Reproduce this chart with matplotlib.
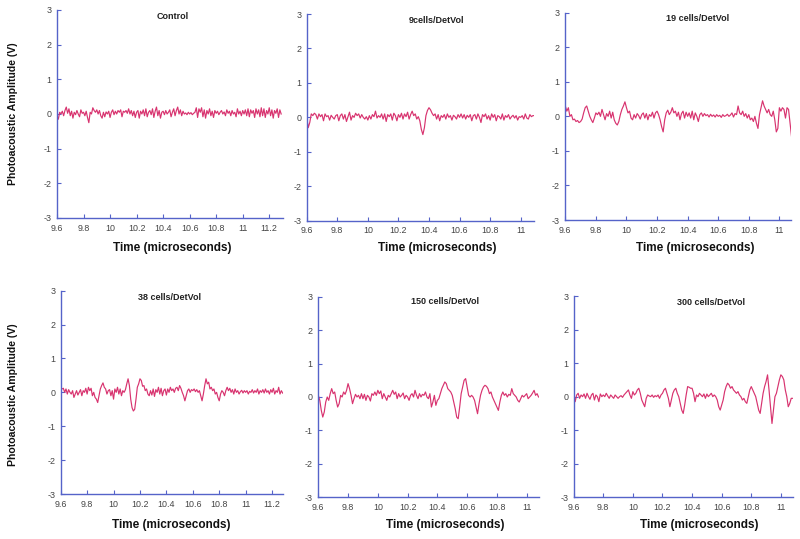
import numpy as np
import matplotlib
matplotlib.use("Agg")
import matplotlib.pyplot as plt

plt.rcParams['font.family'] = ['Liberation Sans', 'DejaVu Sans']
plt.rcParams['axes.unicode_minus'] = False

titles = ["Control", "9cells/DetVol", "19 cells/DetVol",
          "38 cells/DetVol", "150 cells/DetVol", "300 cells/DetVol"]

sig_control = [
    -0.05, -0.15, 0.05, 0.0, 0.08, -0.05, 0.10, 0.20, 0.02, 0.15,
    -0.05, 0.08, -0.12, 0.05, -0.02, 0.10, 0.0, -0.08, 0.12, 0.02,
    0.05, -0.05, 0.08, -0.10, -0.25, 0.05, 0.0, 0.18, 0.10, 0.05,
    0.12, 0.0, 0.10, -0.05, -0.12, 0.05, -0.08, 0.06, 0.0, 0.08,
    -0.10, 0.05, 0.12, -0.02, 0.08, 0.0, 0.10, 0.05, 0.12, -0.08,
    0.08, 0.05, 0.10, 0.02, 0.15, 0.0, 0.10, -0.05, 0.08, -0.10,
    0.05, 0.10, -0.12, 0.08, 0.0, 0.12, -0.05, 0.15, -0.08, 0.05,
    0.10, -0.02, 0.15, -0.10, 0.08, 0.20, -0.05, 0.10, -0.12, 0.05,
    0.08, -0.02, 0.10, 0.0, 0.05, 0.12, -0.08, 0.05, 0.15, -0.05,
    0.10, 0.20, 0.0, 0.12, -0.05, 0.08, 0.0, 0.03, -0.02, 0.05,
    0.0, 0.04, -0.02, 0.02, 0.05, 0.18, -0.10, 0.15, 0.05, 0.18,
    -0.08, 0.12, -0.12, 0.10, 0.0, 0.15, -0.05, 0.08, -0.10, 0.10,
    0.02, 0.08, -0.02, 0.05, 0.10, 0.0, 0.06, -0.05, 0.12, 0.02,
    0.08, -0.05, 0.10, 0.0, 0.05, -0.08, 0.15, 0.0, 0.08, -0.05,
    0.10, 0.0, 0.12, -0.05, 0.15, -0.08, 0.12, 0.02, 0.10, -0.10,
    0.15, 0.0, 0.12, -0.08, 0.18, -0.05, 0.15, -0.10, 0.10, 0.0,
    0.18, -0.05, 0.12, -0.12, 0.10, 0.02, 0.15, -0.10, 0.12, 0.0,
]

sig_9 = [
    0.0, -0.30, -0.15, 0.10, 0.05, 0.12, 0.08, -0.05, 0.10, 0.02,
    0.08, -0.10, 0.10, 0.02, 0.05, -0.08, 0.06, 0.0, -0.05, 0.05,
    0.08, -0.10, 0.05, 0.10, -0.05, 0.08, -0.12, 0.02, 0.15, -0.08,
    0.05, 0.0, 0.12, 0.05, 0.10, -0.02, 0.08, 0.0, -0.05, 0.02,
    -0.08, 0.05, -0.05, 0.08, 0.02, 0.18, -0.02, 0.05, 0.0, 0.10,
    -0.05, 0.10, -0.12, 0.08, 0.02, 0.10, -0.08, 0.12, 0.05, -0.10,
    0.08, 0.0, 0.12, -0.05, 0.10, 0.02, 0.15, -0.05, 0.08, 0.18,
    0.05, 0.10, -0.05, 0.02, -0.10, -0.35, -0.50, -0.30, 0.05, 0.20,
    0.28, 0.22, 0.12, 0.05, 0.10, -0.05, 0.08, -0.10, 0.05, 0.0,
    0.08, -0.05, 0.10, 0.0, 0.05, -0.08, 0.06, 0.02, -0.05, 0.08,
    0.0, 0.10, -0.02, 0.08, -0.05, 0.06, 0.0, 0.08, -0.10, 0.05,
    0.08, -0.05, 0.10, 0.0, -0.15, 0.08, 0.02, 0.10, -0.05, 0.05,
    -0.08, 0.10, 0.0, 0.08, -0.10, 0.05, 0.02, -0.05, 0.10, -0.08,
    0.05, 0.0, 0.08, -0.05, 0.02, 0.06, -0.02, 0.05, -0.08, 0.02,
    0.0, 0.05, -0.05, 0.10, -0.02, -0.05, 0.08, 0.02, 0.05, 0.05,
]

sig_19 = [
    0.30, 0.15, 0.25, 0.0, 0.05, -0.10, -0.08, -0.15, -0.12, -0.18,
    -0.15, -0.08, 0.10, 0.25, 0.30, 0.15, 0.0, -0.10, -0.18, -0.05,
    0.10, 0.05, 0.12, 0.0, 0.20, 0.05, -0.10, 0.08, 0.0, 0.15,
    -0.05, 0.12, -0.10, -0.20, -0.25, -0.15, 0.05, 0.20, 0.30, 0.42,
    0.25, 0.10, 0.15, -0.05, -0.10, 0.05, -0.05, 0.08, 0.02, -0.08,
    0.05, 0.10, -0.05, 0.08, -0.10, 0.05, 0.0, 0.12, -0.05, 0.10,
    0.15, 0.05, -0.10, -0.30, -0.45, -0.10, 0.10, 0.18, 0.05, 0.12,
    0.25, 0.10, 0.15, 0.0, 0.12, -0.10, 0.08, 0.15, -0.05, 0.12,
    0.0, 0.10, -0.05, 0.15, -0.10, 0.10, 0.0, -0.15, 0.05, 0.10,
    0.0, 0.08, 0.02, 0.05, -0.02, 0.06, 0.0, 0.04, -0.02, 0.05,
    0.0, 0.03, -0.03, 0.05, 0.0, 0.02, 0.06, 0.0, 0.04, 0.10,
    -0.02, 0.08, 0.05, 0.30, 0.10, 0.05, 0.15, 0.0, 0.08, -0.05,
    0.05, -0.10, -0.05, -0.15, 0.0, -0.20, -0.35, 0.05, 0.25, 0.45,
    0.30, 0.20, 0.10, 0.20, 0.05, 0.0, 0.15, -0.10, -0.45, -0.35,
    0.25, 0.15, 0.25, 0.20, -0.05, 0.25, 0.20, -0.20, -0.60,
]

sig_38 = [
    0.15, 0.10, 0.12, 0.0, 0.10, -0.05, 0.08, 0.0, -0.05, 0.05,
    -0.15, -0.05, 0.05, -0.08, 0.0, 0.08, -0.10, 0.05, 0.0, 0.12,
    -0.05, 0.15, 0.05, 0.12, -0.10, 0.0, -0.15, -0.20, -0.30, -0.10,
    0.10, 0.20, 0.28, 0.15, 0.10, -0.05, 0.05, 0.08, -0.10, 0.05,
    -0.20, 0.10, 0.0, 0.15, -0.05, 0.10, -0.10, 0.05, 0.0, 0.08,
    0.25, 0.40, 0.20, -0.20, -0.45, -0.55, -0.50, -0.20, 0.15, 0.25,
    0.40, 0.35, 0.18, 0.20, 0.05, 0.10, -0.05, -0.10, 0.05, -0.08,
    0.10, -0.12, 0.08, 0.0, 0.15, -0.05, 0.12, -0.10, 0.05, 0.10,
    -0.08, 0.10, 0.0, 0.15, 0.05, 0.10, 0.0, 0.12, 0.15, 0.05,
    0.20, 0.12, 0.0, -0.10, -0.25, -0.10, 0.05, 0.10, 0.0, 0.08,
    0.05, 0.10, 0.02, 0.08, 0.0, 0.05, -0.10, -0.25, -0.05, 0.20,
    0.40, 0.25, 0.30, 0.10, 0.15, 0.05, 0.10, -0.05, 0.0, -0.15,
    -0.25, -0.05, 0.05, 0.0, -0.10, 0.05, 0.15, 0.05, 0.12, 0.0,
    0.08, -0.05, 0.10, 0.0, 0.05, -0.05, 0.02, 0.06, -0.02, 0.05,
    0.0, 0.05, -0.05, 0.03, 0.0, 0.08, -0.02, 0.05, 0.0, 0.10,
    -0.05, 0.05, 0.0, 0.08, -0.02, 0.10, 0.0, 0.05, -0.05, 0.08,
    0.0, 0.12, -0.05, 0.05, 0.0, 0.15, -0.05, 0.05, -0.02, -0.05,
]

sig_150 = [
    0.05, -0.10, -0.40, -0.60, -0.45, -0.15, 0.0, -0.10, 0.10, 0.25,
    0.10, 0.15, -0.10, -0.30, -0.20, 0.05, 0.0, 0.15, 0.08, 0.20,
    0.40, 0.25, 0.05, -0.20, -0.05, 0.08, 0.0, 0.05, -0.05, 0.10,
    -0.05, 0.08, -0.10, 0.05, 0.0, -0.12, 0.10, 0.05, 0.15, 0.05,
    0.20, 0.10, 0.18, -0.05, 0.10, 0.0, -0.10, 0.05, 0.0, 0.10,
    0.20, 0.08, 0.15, -0.05, 0.10, 0.0, 0.05, 0.12, -0.05, 0.05,
    0.0, -0.10, 0.05, 0.10, 0.0, 0.20, 0.05, -0.05, 0.10, 0.0,
    0.08, 0.05, 0.15, 0.0, -0.05, 0.10, -0.30, -0.15, 0.05, -0.25,
    -0.10, -0.05, 0.10, 0.25, 0.35, 0.45, 0.40, 0.25, 0.20, 0.15,
    0.05, -0.15, -0.35, -0.60, -0.65, -0.30, 0.10, 0.30, 0.50, 0.55,
    0.30, 0.05, 0.0, 0.05, 0.0, -0.10, -0.30, -0.50, -0.20, 0.05,
    0.20, 0.30, 0.35, 0.32, 0.25, 0.10, 0.15, 0.0, -0.10, -0.20,
    -0.30, -0.40, -0.15, 0.05, 0.15, 0.05, 0.10, 0.0, 0.08, 0.05,
    0.25, 0.10, 0.05, 0.0, -0.10, -0.15, -0.05, 0.05, 0.0, 0.05,
    0.10, -0.05, 0.0, 0.05, 0.12, 0.20, 0.05, 0.10, 0.0,
]

sig_300 = [
    0.10, -0.15, 0.05, 0.10, -0.05, 0.05, 0.0, 0.08, -0.05, 0.10,
    0.0, -0.08, 0.05, 0.10, -0.10, 0.05, 0.0, -0.15, 0.08, 0.0,
    0.05, 0.0, 0.10, 0.02, -0.05, 0.05, 0.0, -0.05, 0.05, 0.0,
    -0.05, 0.0, 0.03, -0.02, 0.05, 0.10, 0.15, 0.20, 0.05, -0.05,
    0.15, 0.05, 0.10, 0.20, 0.25, 0.10, -0.10, -0.20, -0.30, -0.05,
    0.05, 0.02, 0.0, 0.05, -0.02, 0.03, 0.0, 0.05, -0.05, 0.05,
    0.10, 0.20, 0.25, 0.10, -0.05, -0.30, -0.10, 0.10, 0.20, 0.25,
    0.10, 0.0, -0.20, -0.40, -0.50, -0.25, 0.05, 0.30, 0.28, 0.25,
    0.25, 0.10, -0.15, 0.05, 0.0, 0.10, 0.05, 0.0, 0.08, -0.05,
    0.08, 0.0, 0.05, 0.10, 0.0, 0.05, 0.0, -0.10, -0.30, -0.40,
    -0.25, -0.10, 0.15, 0.30, 0.40, 0.35, 0.25, 0.30, 0.20, 0.15,
    0.10, 0.15, 0.05, 0.0, -0.10, -0.05, -0.15, -0.20, 0.0, 0.20,
    0.30, 0.20, 0.10, 0.0, -0.20, -0.40, -0.50, -0.20, 0.10, 0.30,
    0.45, 0.65, 0.20, -0.30, -0.80, -0.40, 0.0, 0.10, 0.30, 0.50,
    0.65, 0.60, 0.50, 0.20, 0.0, -0.30, -0.20, -0.05, -0.05,
]

signals = [sig_control, sig_9, sig_19, sig_38, sig_150, sig_300]
t_start = 9.6
t_step = 0.01
x_right = [11.306, 11.087, 11.078, 11.285, 11.085, 11.08]
x_ticks_top = [9.6, 9.8, 10, 10.2, 10.4, 10.6, 10.8, 11, 11.2]
y_ticks = [-3, -2, -1, 0, 1, 2, 3]

W, H = 800, 539
# axes boxes in pixels: left, right, top, bottom
boxes = [
    (57, 283.3, 10, 218),
    (306.7, 534, 14, 220.7),
    (565.3, 791.3, 12.7, 220),
    (60.7, 283.3, 290.7, 494),
    (318.3, 539.3, 296.7, 497.3),
    (573.7, 792.7, 296, 497.3),
]
title_pos = [(0.51, 0.97), (0.57, 0.97), (0.587, 0.97),
             (0.487, 0.965), (0.573, 0.975), (0.627, 0.97)]
xlabel_pos = [(172.7, 248), (437, 248), (695.7, 248),
              (171.7, 525), (445.7, 525), (699, 525)]

line_color = '#d8336f'
spine_color = '#5563c9'

fig = plt.figure(figsize=(W / 100, H / 100), dpi=100)
for i in range(6):
    l, r, t, b = boxes[i]
    ax = fig.add_axes([l / W, 1 - b / H, (r - l) / W, (b - t) / H])
    y = np.array(signals[i])
    x = t_start + t_step * np.arange(len(y))
    ax.plot(x, y, color=line_color, lw=0.85)
    ax.set_xlim(9.6, x_right[i])
    ax.set_ylim(-3, 3)
    ax.set_xticks([v for v in x_ticks_top if v <= x_right[i]])
    ax.set_xticklabels(['%g' % v for v in x_ticks_top if v <= x_right[i]])
    ax.set_yticks(y_ticks)
    for s in ['top', 'right']:
        ax.spines[s].set_visible(False)
    for s in ['left', 'bottom']:
        ax.spines[s].set_color(spine_color)
        ax.spines[s].set_linewidth(1.0)
    ax.tick_params(axis='both', direction='in', length=3, width=0.8,
                   color=spine_color, labelsize=6.4, labelcolor='#444444', pad=4)
    ax.text(title_pos[i][0], title_pos[i][1], titles[i], transform=ax.transAxes,
            ha='center', va='center', fontsize=6.5, fontweight='bold', color='#222222')
    fig.text(xlabel_pos[i][0] / W, 1 - xlabel_pos[i][1] / H, 'Time (microseconds)',
             ha='center', va='center', fontsize=8.5, fontweight='bold', color='#111111')

fig.text(13 / W, 1 - 114 / H, 'Photoacoustic Amplitude (V)', rotation=90,
         ha='center', va='center', fontsize=7.6, fontweight='bold', color='#111111')
fig.text(13 / W, 1 - 395 / H, 'Photoacoustic Amplitude (V)', rotation=90,
         ha='center', va='center', fontsize=7.6, fontweight='bold', color='#111111')

fig.savefig('out.png', dpi=100)
